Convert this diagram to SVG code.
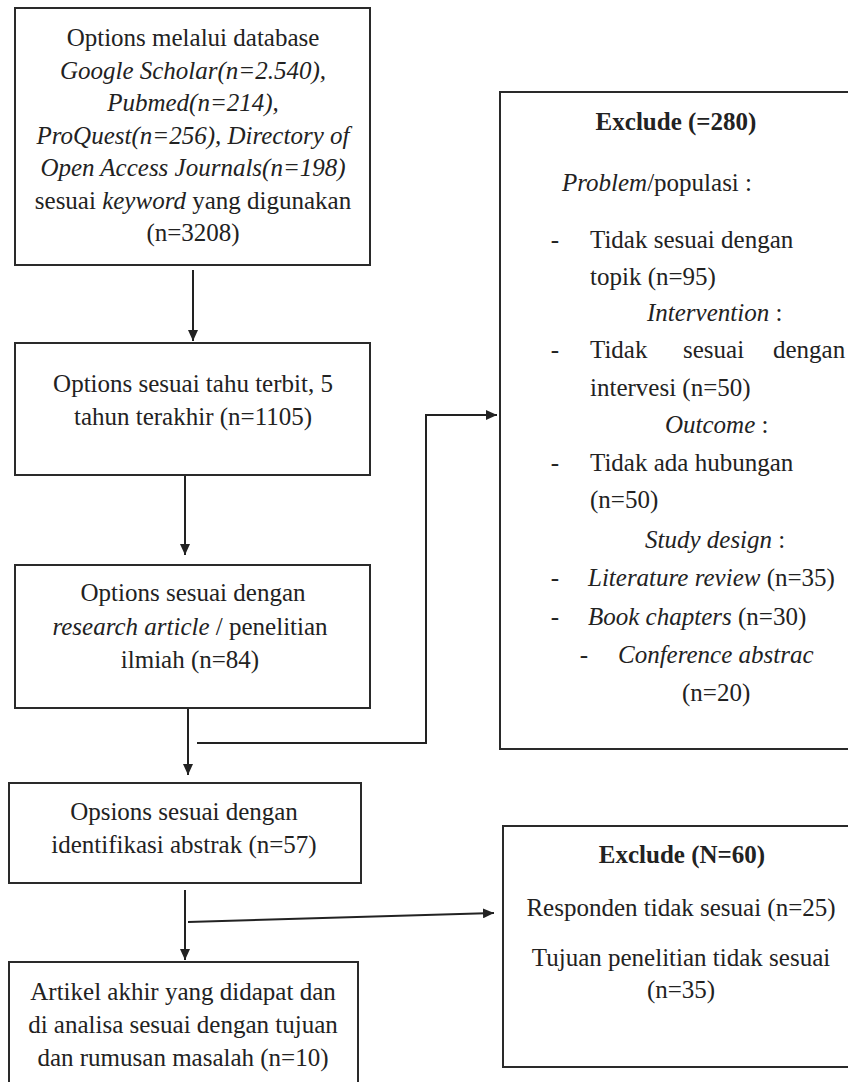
<svg xmlns="http://www.w3.org/2000/svg" width="848" height="1082" viewBox="0 0 848 1082">
<style>
.box{fill:#fff;stroke:#2a2a2a;stroke-width:2}
.t{font-family:"Liberation Serif","Times New Roman",serif;font-size:25px;fill:#222}
.c{text-anchor:middle}
.i{font-style:italic}
.b{font-weight:bold}
.ln{fill:none;stroke:#222;stroke-width:2}
</style>
<defs>
<marker id="ah" markerUnits="userSpaceOnUse" markerWidth="12" markerHeight="10" refX="11" refY="5" orient="auto">
<path d="M0,0 L11,5 L0,10 z" fill="#222"/>
</marker>
</defs>
<rect width="848" height="1082" fill="#fff"/>
<g id="connectors">
<path class="ln" d="M193,270 L193,341" marker-end="url(#ah)"/>
<path class="ln" d="M185,476 L185,555" marker-end="url(#ah)"/>
<path class="ln" d="M188,708 L188,775" marker-end="url(#ah)"/>
<path class="ln" d="M197,743 L426,743 L426,415 L497,415" marker-end="url(#ah)"/>
<path class="ln" d="M185,890 L185,960" marker-end="url(#ah)"/>
<path class="ln" d="M188,922 L494,913" marker-end="url(#ah)"/>
</g>
<g id="n1">
<rect class="box" x="15" y="8" width="355" height="257"/>
<text class="t c" x="193" y="46">Options melalui database</text>
<text class="t c i" x="193" y="78.5">Google Scholar(n=2.540),</text>
<text class="t c i" x="193" y="111">Pubmed(n=214),</text>
<text class="t c i" x="193" y="143.5">ProQuest(n=256), Directory of</text>
<text class="t c i" x="193" y="176">Open Access Journals(n=198)</text>
<text class="t c" x="193" y="208.5">sesuai <tspan class="i">keyword</tspan> yang digunakan</text>
<text class="t c" x="193" y="241">(n=3208)</text>
</g>
<g id="n2">
<rect class="box" x="15" y="343" width="355" height="132"/>
<text class="t c" x="193" y="392">Options sesuai tahu terbit, 5</text>
<text class="t c" x="193" y="425">tahun terakhir (n=1105)</text>
</g>
<g id="n3">
<rect class="box" x="15" y="565" width="355" height="143"/>
<text class="t c" x="193" y="601">Options sesuai dengan</text>
<text class="t c" x="190" y="635"><tspan class="i">research article</tspan> / penelitian</text>
<text class="t c" x="190" y="668">ilmiah (n=84)</text>
</g>
<g id="n4">
<rect class="box" x="9" y="783" width="352" height="100"/>
<text class="t c" x="184" y="820">Opsions sesuai dengan</text>
<text class="t c" x="184" y="853">identifikasi abstrak (n=57)</text>
</g>
<g id="n5">
<rect class="box" x="9" y="962" width="349" height="140"/>
<text class="t c" x="183" y="1000">Artikel akhir yang didapat dan</text>
<text class="t c" x="183" y="1033">di analisa sesuai dengan tujuan</text>
<text class="t c" x="183" y="1066">dan rumusan masalah (n=10)</text>
</g>
<g id="e1">
<rect class="box" x="500" y="92" width="360" height="657"/>
<text class="t c b" x="676" y="130">Exclude (=280)</text>
<text class="t c" x="657" y="191"><tspan class="i">Problem</tspan>/populasi :</text>
<text class="t c" x="555" y="248">-</text>
<text class="t" x="590" y="248">Tidak sesuai dengan</text>
<text class="t" x="590" y="285">topik (n=95)</text>
<text class="t" x="647" y="321"><tspan class="i">Intervention</tspan> :</text>
<text class="t c" x="555" y="358">-</text>
<text class="t" x="590" y="358">Tidak</text>
<text class="t" x="683" y="358">sesuai</text>
<text class="t" x="773" y="358">dengan</text>
<text class="t" x="590" y="396">intervesi (n=50)</text>
<text class="t" x="665" y="433"><tspan class="i">Outcome</tspan> :</text>
<text class="t c" x="555" y="471">-</text>
<text class="t" x="590" y="471">Tidak ada hubungan</text>
<text class="t" x="590" y="508">(n=50)</text>
<text class="t" x="645" y="548"><tspan class="i">Study design</tspan> :</text>
<text class="t c" x="555" y="586">-</text>
<text class="t" x="588" y="586"><tspan class="i">Literature review</tspan> (n=35)</text>
<text class="t c" x="555" y="625">-</text>
<text class="t" x="588" y="625"><tspan class="i">Book chapters</tspan> (n=30)</text>
<text class="t c" x="584" y="663">-</text>
<text class="t i" x="618" y="663">Conference abstrac</text>
<text class="t" x="682" y="701">(n=20)</text>
</g>
<g id="e2">
<rect class="box" x="503" y="826" width="357" height="241"/>
<text class="t c b" x="682" y="863">Exclude (N=60)</text>
<text class="t c" x="681" y="916">Responden tidak sesuai (n=25)</text>
<text class="t c" x="681" y="966">Tujuan penelitian tidak sesuai</text>
<text class="t c" x="681" y="998">(n=35)</text>
</g>
</svg>
